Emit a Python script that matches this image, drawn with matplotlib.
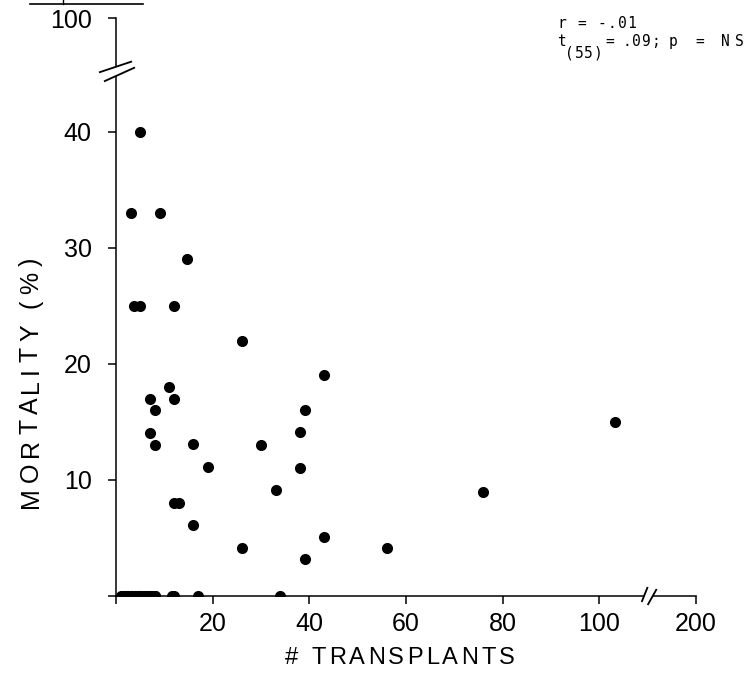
import matplotlib
matplotlib.use("Agg")
import numpy as np
import matplotlib.pyplot as plt
from matplotlib import transforms as mtransforms
from matplotlib.lines import Line2D
from matplotlib.patches import Polygon
from matplotlib.font_manager import FontProperties

# ---------------------------------------------------------------- data
# Number of transplants per centre and the mortality observed there (%)
transplants = [5, 3, 9, 14.7, 3.7, 5, 12, 26, 43, 7, 11, 12, 8, 39, 7, 8,
               16, 30, 38, 19, 38, 33, 12, 13, 16, 26, 43, 39, 56, 76, 116,
               1, 1.5, 2, 2, 2.5, 3, 3, 3.5, 4, 4, 4.5, 5, 5, 5.5, 6, 6,
               6.5, 7, 7, 7.5, 8, 8, 11.5, 12, 17, 34]
mortality = [40, 33, 33, 29, 25, 25, 25, 22, 19, 17, 18, 17, 16, 16, 14, 13,
             13.1, 13, 14.1, 11.1, 11, 9.1, 8, 8, 6.1, 4.1, 5.1, 3.2, 4.1, 9, 15,
             0, 0, 0, 0, 0, 0, 0, 0, 0, 0, 0, 0, 0, 0, 0, 0,
             0, 0, 0, 0, 0, 0, 0, 0, 0, 0]

x_ticks = [0, 20, 40, 60, 80, 100, 200]
x_tick_labels = ["", "20", "40", "60", "80", "100", "200"]
y_ticks = [0, 10, 20, 30, 40, 100]
y_tick_labels = ["", "10", "20", "30", "40", "100"]

x_label = "# TRANSPLANTS"
y_label = "MORTALITY (%)"
stat_r = "r = -.01"
stat_t = "t"
stat_df = "(55)"
stat_rest = [("=", 605), (".09;", 622), ("p", 668), ("=", 695), ("NS", 718)]

# ---------------------------------------------------------------- scales
X_SPLIT, X_SQUEEZE = 100.0, 0.2      # 100..200 drawn in a fifth of the room
Y_SPLIT, Y_SQUEEZE = 40.0, 0.163     # 40..100 squeezed above the break


def x_fwd(v):
    v = np.asarray(v, float)
    return np.where(v <= X_SPLIT, v, X_SPLIT + (v - X_SPLIT) * X_SQUEEZE)


def x_inv(p):
    p = np.asarray(p, float)
    return np.where(p <= X_SPLIT, p, X_SPLIT + (p - X_SPLIT) / X_SQUEEZE)


def y_fwd(v):
    v = np.asarray(v, float)
    return np.where(v <= Y_SPLIT, v, Y_SPLIT + (v - Y_SPLIT) * Y_SQUEEZE)


def y_inv(p):
    p = np.asarray(p, float)
    return np.where(p <= Y_SPLIT, p, Y_SPLIT + (p - Y_SPLIT) / Y_SQUEEZE)


# ---------------------------------------------------------------- figure
W, H, DPI = 751, 679, 100
fig = plt.figure(figsize=(W / DPI, H / DPI), dpi=DPI)
ax = fig.add_axes([116 / W, 83 / H, 580 / W, 578 / H])
ax.set_xscale("function", functions=(x_fwd, x_inv))
ax.set_yscale("function", functions=(y_fwd, y_inv))
ax.set_xlim(0, 200)
ax.set_ylim(0, 100)

LW = 1.1
ax.plot(transplants, mortality, "o", color="black", ms=8, mew=0, zorder=2)

for side in ("top", "right"):
    ax.spines[side].set_visible(False)
for side in ("left", "bottom"):
    ax.spines[side].set_linewidth(LW)

tick_font = FontProperties(family="Liberation Sans", size=18)
ax.set_xticks(x_ticks)
ax.set_xticklabels(x_tick_labels, fontproperties=tick_font)
ax.set_yticks(y_ticks)
ax.set_yticklabels(y_tick_labels, fontproperties=tick_font)
ax.xaxis.set_minor_locator(matplotlib.ticker.NullLocator())
ax.yaxis.set_minor_locator(matplotlib.ticker.NullLocator())
ax.tick_params(axis="x", direction="out", length=5.5, width=LW, pad=6)
ax.tick_params(axis="y", direction="out", length=5.5, width=LW, pad=12)

# ---------------------------------------------------------------- axis breaks
def pixel_shape(anchor, lines, gap):
    t = mtransforms.Affine2D() + mtransforms.ScaledTranslation(
        anchor[0], anchor[1], ax.transData)
    ax.add_patch(Polygon(gap, closed=True, transform=t, facecolor="white",
                         edgecolor="none", clip_on=False, zorder=3))
    for (x0, y0), (x1, y1) in lines:
        ax.add_line(Line2D([x0, x1], [y0, y1], transform=t, color="black",
                           lw=LW * 1.2, clip_on=False, zorder=4,
                           solid_capstyle="butt"))


pixel_shape((0, 72.3),
            [((-17, -2), (16, 9)), ((-12, -11), (19, 3))],
            [(-4, 2.3), (4, 5), (4, -3.8), (-4, -7.4)])
pixel_shape((150, 0),
            [((-6, -6), (0, 9)), ((0, -9), (9, 7))],
            [(-4.2, -1.5), (-3.0, 1.5), (5.9, 1.5), (4.2, -1.5)])

# ---------------------------------------------------------------- labels
ident = mtransforms.IdentityTransform()
fig.canvas.draw()
renderer = fig.canvas.get_renderer()


def spaced_label(s, start, baseline, length, size, vertical=False):
    fp = FontProperties(family="Liberation Sans", size=size)

    def width(t):
        return renderer.get_text_width_height_descent(t, fp, ismath=False)[0]

    bar = width("|")
    offsets = [width(s[:i] + "|") - bar for i in range(len(s))]
    gap = (length - width(s)) / (len(s) - 1)
    for i, ch in enumerate(s):
        if ch == " ":
            continue
        p = start + offsets[i] + i * gap
        xy = (baseline, p) if vertical else (p, baseline)
        fig.text(xy[0], xy[1], ch, transform=ident, fontproperties=fp,
                 rotation=90 if vertical else 0, rotation_mode="anchor",
                 ha="left", va="baseline")


spaced_label(x_label, 285, H - 664, 230, 17)
spaced_label(y_label, H - 508, 38, 250, 18, vertical=True)

# correlation statistics, typed in a fixed-pitch face
stat_font = FontProperties(family="DejaVu Sans Mono", size=10.5)


def typed(s, x0, baseline, pitch=10.0):
    for i, ch in enumerate(s):
        if ch == " ":
            continue
        fig.text(x0 + i * pitch + pitch / 2, H - baseline, ch, transform=ident,
                 fontproperties=stat_font, ha="center", va="baseline")


typed(stat_r, 557, 28)
typed(stat_t, 557, 46)
typed(stat_df, 565, 58, pitch=9.5)
for piece, x0 in stat_rest:
    typed(piece, x0, 46, pitch=14 if piece == "NS" else 9.5)

# rule left along the upper edge of the page
fig.add_artist(Line2D([30, 143], [H - 4, H - 4], transform=ident,
                      color="black", lw=1.2))
fig.add_artist(Line2D([63, 63], [H - 4, H], transform=ident,
                      color="black", lw=1.0))

fig.savefig("out.png", dpi=DPI, facecolor="white")
